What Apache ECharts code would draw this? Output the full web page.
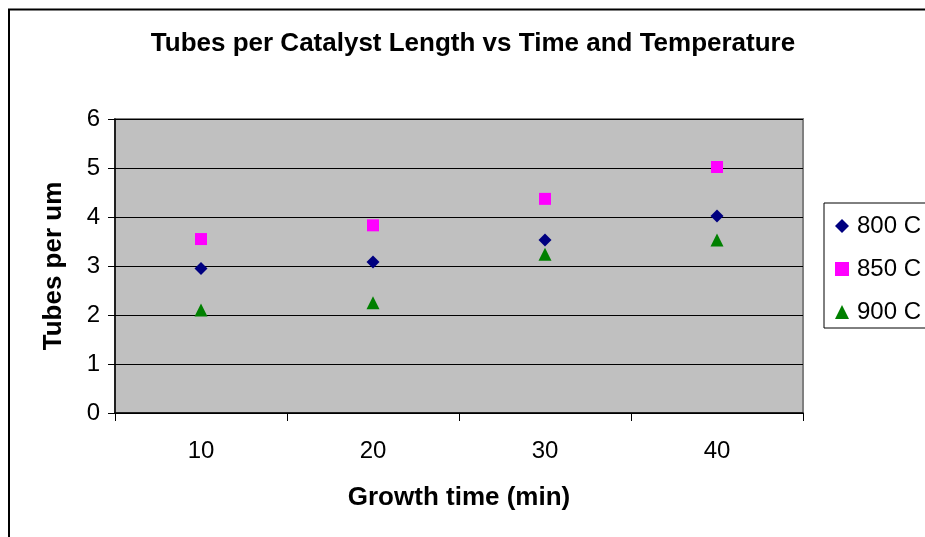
<!DOCTYPE html>
<html>
<head>
<meta charset="utf-8">
<script src="https://cdn.jsdelivr.net/npm/echarts@6/dist/echarts.min.js"></script>
<style>html,body{margin:0;padding:0;background:#fff;}#c{width:925px;height:537px;}</style>
</head>
<body>
<div id="c"></div>
<script>
var categories = ['10', '20', '30', '40'];
var s800 = [2.95, 3.08, 3.53, 4.02];
var s850 = [3.55, 3.83, 4.37, 5.02];
var s900 = [2.10, 2.25, 3.24, 3.53];
var seriesNames = ['800 C', '850 C', '900 C'];
var yTicks = [0, 1, 2, 3, 4, 5, 6];

var FF = '"Liberation Sans", Arial, sans-serif';
var chart = echarts.init(document.getElementById('c'), null, {renderer: 'canvas'});
chart.setOption({
  animation: false,
  backgroundColor: '#fff',
  title: {
    text: 'Tubes per Catalyst Length vs Time and Temperature',
    left: 473, top: 31, textAlign: 'center', padding: 0,
    textStyle: {fontFamily: FF, fontSize: 26, fontWeight: 'bold', color: '#000'}
  },
  graphic: [{
    type: 'rect', z: -10, silent: true,
    shape: {x: 9, y: 9.5, width: 1000, height: 600},
    style: {fill: null, stroke: '#000', lineWidth: 2}
  }],
  legend: {
    orient: 'vertical', left: 824, top: 203,
    padding: [11, 40, 4, 11], itemGap: 19,
    itemWidth: 14, itemHeight: 14,
    backgroundColor: '#fff', borderColor: '#000', borderWidth: 1,
    textStyle: {fontFamily: FF, fontSize: 24, color: '#000', padding: [0, 0, 0, 3]},
    data: [
      {name: seriesNames[0], icon: 'diamond', itemStyle: {color: '#000080', opacity: 1}},
      {name: seriesNames[1], icon: 'rect', itemStyle: {color: '#FF00FF', opacity: 1}},
      {name: seriesNames[2], icon: 'triangle', itemStyle: {color: '#008000', opacity: 1}}
    ]
  },
  grid: {
    left: 115, right: 122, top: 119, bottom: 124,
    show: true, backgroundColor: '#C0C0C0', borderColor: '#808080', borderWidth: 2
  },
  xAxis: {
    type: 'category', data: categories, boundaryGap: true,
    name: 'Growth time (min)', nameLocation: 'middle', nameGap: 72,
    nameTextStyle: {fontFamily: FF, fontSize: 26, fontWeight: 'bold', color: '#000'},
    axisLine: {show: true, lineStyle: {color: '#000', width: 1.5}},
    axisTick: {show: true, length: 8, inside: false, lineStyle: {color: '#000'}},
    axisLabel: {fontFamily: FF, fontSize: 24, color: '#000', margin: 26},
    splitLine: {show: false}
  },
  yAxis: {
    type: 'value', min: yTicks[0], max: yTicks[yTicks.length - 1], interval: 1,
    name: 'Tubes per um', nameLocation: 'middle', nameGap: 48, nameRotate: 90,
    nameTextStyle: {fontFamily: FF, fontSize: 26, fontWeight: 'bold', color: '#000'},
    axisLine: {show: true, lineStyle: {color: '#000', width: 1.5}},
    axisTick: {show: true, length: 7, inside: false, lineStyle: {color: '#000'}},
    axisLabel: {fontFamily: FF, fontSize: 24, color: '#000', margin: 15},
    splitLine: {show: true, lineStyle: {color: '#000', width: 1}}
  },
  series: [
    {name: seriesNames[0], type: 'scatter', data: s800, symbol: 'diamond', symbolSize: 13, itemStyle: {color: '#000080', opacity: 1}},
    {name: seriesNames[1], type: 'scatter', data: s850, symbol: 'rect', symbolSize: 12, itemStyle: {color: '#FF00FF', opacity: 1}},
    {name: seriesNames[2], type: 'scatter', data: s900, symbol: 'triangle', symbolSize: 13, itemStyle: {color: '#008000', opacity: 1}}
  ]
});
</script>
</body>
</html>
